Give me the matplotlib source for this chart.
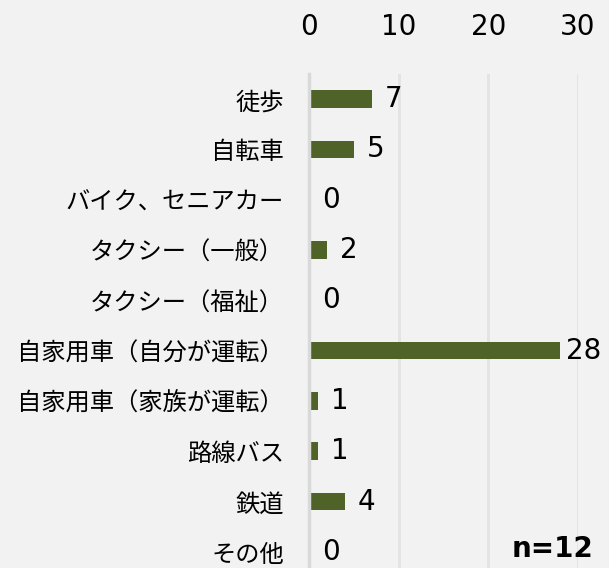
import matplotlib
matplotlib.use("Agg")
import matplotlib.pyplot as plt

categories = ["徒歩", "自転車", "バイク、セニアカー", "タクシー（一般）", "タクシー（福祉）",
              "自家用車（自分が運転）", "自家用車（家族が運転）", "路線バス", "鉄道", "その他"]
values = [7, 5, 0, 2, 0, 28, 1, 1, 4, 0]
xticks = [0, 10, 20, 30]
note = "n=12"

plt.rcParams['font.family'] = ['Noto Sans CJK JP', 'DejaVu Sans']

W, H = 609, 568
fig = plt.figure(figsize=(W / 100, H / 100), dpi=100)
bg = '#f2f2f2'
fig.patch.set_facecolor(bg)

left, right, top, bottom = 309, 578, 74, 577
ax = fig.add_axes([left / W, 1 - bottom / H, (right - left) / W, (bottom - top) / H])
ax.set_facecolor(bg)

y = list(range(len(categories)))
ax.barh(y, values, height=0.35, color='#4f6228', zorder=3)
ax.set_ylim(len(categories) - 0.5, -0.5)
ax.set_xlim(0, 30)
ax.set_xticks(xticks)
ax.xaxis.tick_top()
ax.tick_params(axis='x', length=0, pad=24, labelsize=20)
ax.tick_params(axis='y', length=0, pad=18, labelsize=17.5)
ax.set_yticks(y)
ax.set_yticklabels(categories)
for lbl in ax.get_xticklabels():
    lbl.set_family(['DejaVu Sans'])

for s in ['top', 'right', 'bottom']:
    ax.spines[s].set_visible(False)
ax.spines['left'].set_color('#d9d9d9')
ax.spines['left'].set_linewidth(2.5)
ax.spines['left'].set_zorder(4)
ax.xaxis.grid(True, color='#e3e3e3', linewidth=2)
ax.set_axisbelow(True)

fig.canvas.draw()
renderer = fig.canvas.get_renderer()
max_right = 601
for yi, v in zip(y, values):
    t = ax.annotate(str(v), (v, yi), xytext=(9.5, 0), textcoords='offset points',
                    va='center', ha='left', fontsize=20, family=['DejaVu Sans'],
                    annotation_clip=False, zorder=5)
    bb = t.get_window_extent(renderer)
    if bb.x1 > max_right:
        shift = (bb.x1 - max_right) * 72 / fig.dpi
        t.set_position((9.5 - shift, 0))

fig.text(593 / W, 1 - 549 / H, note, ha='right', va='center', fontsize=20,
         fontweight='bold', family=['DejaVu Sans'])

fig.savefig('out.png', dpi=100, facecolor=bg)
